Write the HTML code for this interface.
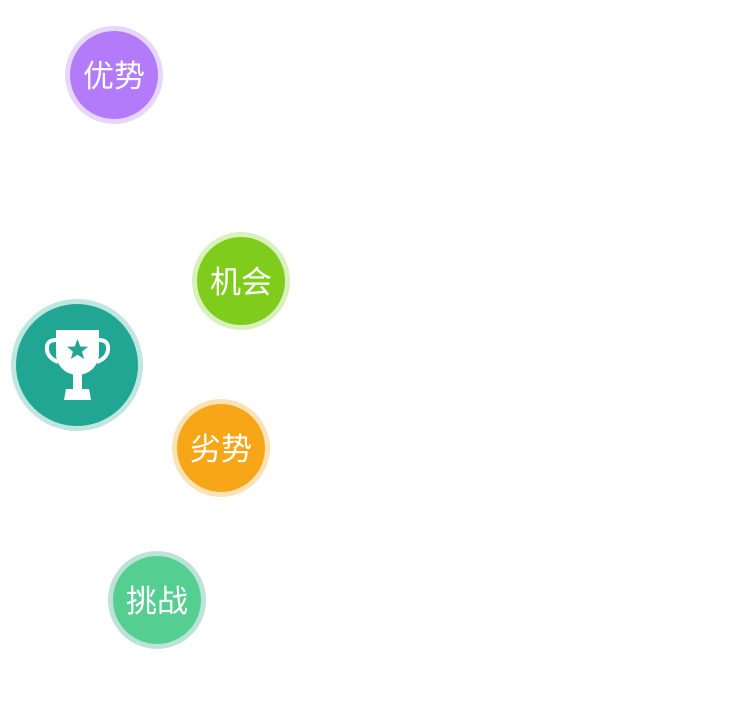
<!DOCTYPE html>
<html><head><meta charset="utf-8"><style>
body{margin:0;width:750px;height:716px;background:#fff;overflow:hidden;position:relative;font-family:"Liberation Sans","Noto Sans CJK SC",sans-serif}
.c{position:absolute;border-radius:50%;display:flex;align-items:center;justify-content:center;color:#fff;font-size:31px;box-sizing:border-box}
.c span{position:relative;top:-2px}
</style></head><body>
<div class="c" style="left:65px;top:26px;width:98px;height:98px;background:#b37bfa;border:5px solid #e7d6fd"><span>优势</span></div>
<div class="c" style="left:192px;top:232px;width:98px;height:98px;background:#80cc1c;border:5px solid #d8f1bd"><span>机会</span></div>
<div class="c" style="left:172px;top:399px;width:98px;height:98px;background:#f7a618;border:5px solid #fce2b8"><span>劣势</span></div>
<div class="c" style="left:108px;top:551px;width:98px;height:98px;background:#55ce91;border:5px solid #bde3d9"><span>挑战</span></div>
<div class="c" style="left:11px;top:299px;width:132px;height:132px;background:#21a693;border:5px solid #bfe6df"></div>
<svg style="position:absolute;left:0;top:0" width="750" height="716">
<path d="M56 330 H99 V354 A21.5 21 0 0 1 56 354 Z" fill="#fff"/>
<path d="M56 340 Q46 340 47 350 Q48 358 58 362" stroke="#fff" stroke-width="4" fill="none"/>
<path d="M99 340 Q109 340 108 350 Q107 358 97 362" stroke="#fff" stroke-width="4" fill="none"/>
<rect x="73" y="372" width="9" height="18" fill="#fff"/>
<path d="M66 389 H89 L91 400 H64 Z" fill="#fff"/>
<polygon points="77.5,339 80.3,346.5 88,346.8 82,351.6 84.2,359 77.5,354.8 70.8,359 73,351.6 67,346.8 74.7,346.5" fill="#21a693"/>
</svg>
</body></html>
